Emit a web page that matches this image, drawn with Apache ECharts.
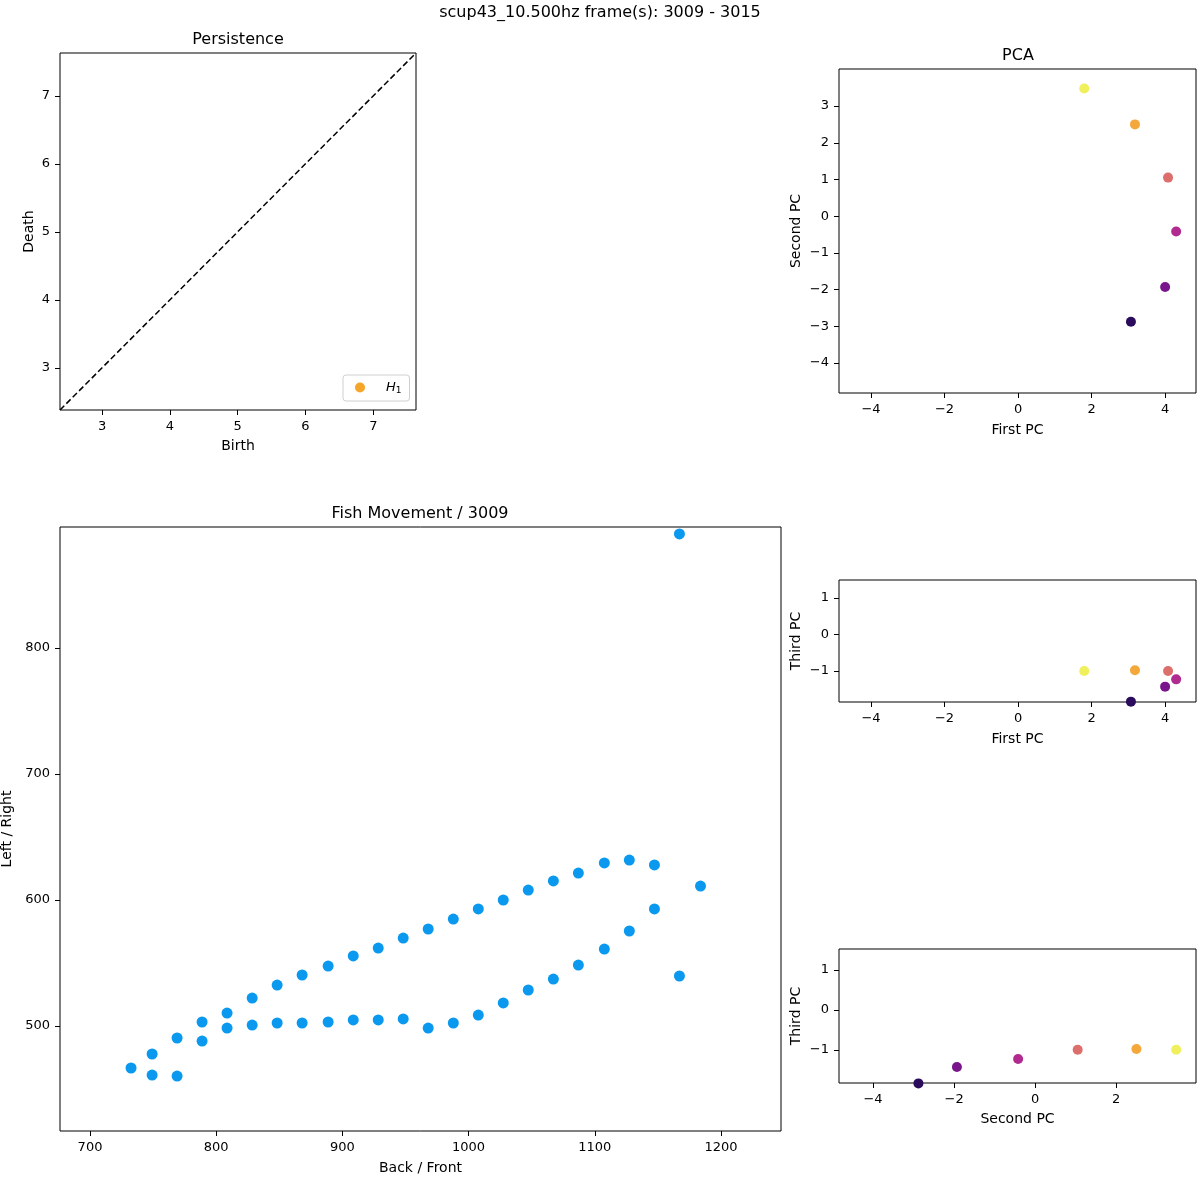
<!DOCTYPE html>
<html><head><meta charset="utf-8">
<script src="https://cdn.jsdelivr.net/npm/echarts@6/dist/echarts.min.js"></script>
<style>html,body{margin:0;padding:0;background:#fff}#c{width:1200px;height:1200px}</style>
</head><body><div id="c"></div>
<script>
// ---------- data ----------
const suptitle = 'scup43_10.500hz frame(s): 3009 - 3015';
const fishTitle = 'Fish Movement / 3009';

const fishX = [732.5, 749.2, 749.2, 769.0, 769.0, 788.8, 788.8, 808.6, 808.6, 828.5, 828.5,
  848.3, 848.3, 868.1, 868.1, 888.7, 888.7, 908.6, 908.6, 928.4, 928.4, 948.2, 948.2,
  968.0, 968.0, 987.9, 987.9, 1007.7, 1007.7, 1027.5, 1027.5, 1047.3, 1047.3, 1067.2, 1067.2,
  1087.0, 1087.0, 1107.6, 1107.6, 1127.4, 1127.4, 1147.3, 1147.3, 1167.1, 1167.1, 1183.8];
const fishY = [466.7, 477.8, 461.1, 490.5, 460.3, 503.2, 488.1, 510.3, 498.4, 522.2, 500.8,
  532.5, 502.4, 540.5, 502.4, 547.6, 503.2, 555.6, 504.8, 561.9, 504.8, 569.8, 505.6,
  577.0, 498.4, 584.9, 502.4, 592.9, 508.7, 600.0, 518.3, 607.9, 528.6, 615.1, 537.3,
  621.4, 548.4, 629.4, 561.1, 631.7, 575.4, 627.8, 592.9, 539.7, 890.5, 611.1];

const pc1 = [3.07, 4.00, 4.30, 4.08, 3.18, 1.80];
const pc2 = [-2.88, -1.93, -0.42, 1.05, 2.50, 3.48];
const pc3 = [-1.84, -1.43, -1.23, -1.00, -0.98, -1.00];
const pcColors = ['#2a0b5c', '#7a168c', '#b02a8f', '#dc6e6c', '#f4a73a', '#eff05c'];

const h1Birth = [];
const h1Death = [];
const persRange = [2.38, 7.63];

const persTicks = [3, 4, 5, 6, 7];
const pcaXTicks = [-4, -2, 0, 2, 4];
const pcaYTicks = [-4, -3, -2, -1, 0, 1, 2, 3];
const thirdTicks = [-1, 0, 1];
const pc2Ticks = [-4, -2, 0, 2];
const fishXTicks = [700, 800, 900, 1000, 1100, 1200];
const fishYTicks = [500, 600, 700, 800];

// ---------- chart ----------
const FONT = 'DejaVu Sans';
const fmt = v => String(v).replace('-', '\u2212');

function axis(kind, gi, min, max, ticks, name, gap) {
  return {
    type: 'value', gridIndex: gi, min, max,
    position: kind === 'y' ? 'left' : 'bottom',
    name, nameLocation: 'middle', nameGap: gap,
    nameRotate: kind === 'y' ? 90 : 0,
    nameTextStyle: { color: '#000', fontSize: 14, fontFamily: FONT },
    axisLine: { show: false, onZero: false },
    splitLine: { show: false },
    axisTick: { show: true, length: 5, inside: false, customValues: ticks, lineStyle: { color: '#000', width: 1 } },
    axisLabel: { show: true, customValues: ticks, formatter: fmt, color: '#000', fontSize: 13, fontFamily: FONT, margin: kind === 'y' ? 10 : 10 }
  };
}

const gridBase = { show: true, borderColor: '#000', borderWidth: 1, backgroundColor: 'transparent', containLabel: false, outerBoundsMode: 'none' };

const pcPts = (xs, ys) => xs.map((x, i) => ({ value: [x, ys[i]], itemStyle: { color: pcColors[i], opacity: 1 } }));

const option = {
  animation: false,
  backgroundColor: '#fff',
  textStyle: { fontFamily: FONT },
  grid: [
    Object.assign({ left: 60, top: 53, width: 356, height: 357 }, gridBase),
    Object.assign({ left: 839, top: 69, width: 357, height: 324 }, gridBase),
    Object.assign({ left: 839, top: 580, width: 357, height: 122 }, gridBase),
    Object.assign({ left: 839, top: 949, width: 357, height: 134 }, gridBase),
    Object.assign({ left: 60, top: 527, width: 721, height: 604 }, gridBase)
  ],
  xAxis: [
    axis('x', 0, persRange[0], persRange[1], persTicks, 'Birth', 29),
    axis('x', 1, -4.87, 4.84, pcaXTicks, 'First PC', 30),
    axis('x', 2, -4.87, 4.84, pcaXTicks, 'First PC', 30),
    axis('x', 3, -4.84, 3.97, pc2Ticks, 'Second PC', 29),
    axis('x', 4, 676.2, 1247.6, fishXTicks, 'Back / Front', 30)
  ],
  yAxis: [
    axis('y', 0, persRange[0], persRange[1], persTicks, 'Death', 24),
    axis('y', 1, -4.82, 4.01, pcaYTicks, 'Second PC', 36),
    axis('y', 2, -1.85, 1.49, thirdTicks, 'Third PC', 36),
    axis('y', 3, -1.83, 1.52, thirdTicks, 'Third PC', 36),
    axis('y', 4, 416.7, 896, fishYTicks, 'Left / Right', 44)
  ],
  legend: {
    left: 343, top: 375, orient: 'vertical',
    data: [{ name: 'H1', icon: 'circle' }],
    itemWidth: 10, itemHeight: 10, itemGap: 4,
    padding: [6, 8, 6, 12],
    borderColor: '#d0d0d0', borderWidth: 1, borderRadius: 3,
    backgroundColor: '#fff',
    formatter: () => '{i|H}{s|1}',
    textStyle: {
      rich: {
        i: { fontStyle: 'italic', fontSize: 13, fontFamily: FONT, color: '#000', padding: [0, 0, 0, 16] },
        s: { fontSize: 9, fontFamily: FONT, color: '#000', verticalAlign: 'bottom', padding: [6, 0, 0, 0] }
      }
    }
  },
  series: [
    {
      type: 'line', xAxisIndex: 0, yAxisIndex: 0, silent: true,
      data: [[persRange[0], persRange[0]], [persRange[1], persRange[1]]],
      showSymbol: false, symbol: 'none',
      lineStyle: { color: '#000', type: [6, 3], width: 1.5 }
    },
    {
      name: 'H1', type: 'scatter', xAxisIndex: 0, yAxisIndex: 0,
      data: h1Birth.map((b, i) => [b, h1Death[i]]),
      symbolSize: 10, itemStyle: { color: '#f5a52a', opacity: 1 }
    },
    { type: 'scatter', xAxisIndex: 1, yAxisIndex: 1, data: pcPts(pc1, pc2), symbolSize: 10, clip: false },
    { type: 'scatter', xAxisIndex: 2, yAxisIndex: 2, data: pcPts(pc1, pc3), symbolSize: 10, clip: false },
    { type: 'scatter', xAxisIndex: 3, yAxisIndex: 3, data: pcPts(pc2, pc3), symbolSize: 10, clip: false },
    {
      type: 'scatter', xAxisIndex: 4, yAxisIndex: 4,
      data: fishX.map((x, i) => [x, fishY[i]]),
      symbolSize: 11, itemStyle: { color: '#0a99ee', opacity: 1 }
    }
  ],
  graphic: [
    { type: 'text', style: { text: suptitle, x: 600, y: 13, textAlign: 'center', textVerticalAlign: 'middle', font: '16px "DejaVu Sans"', fill: '#000' } },
    { type: 'text', style: { text: 'Persistence', x: 238, y: 40, textAlign: 'center', textVerticalAlign: 'middle', font: '16px "DejaVu Sans"', fill: '#000' } },
    { type: 'text', style: { text: 'PCA', x: 1018, y: 56, textAlign: 'center', textVerticalAlign: 'middle', font: '16px "DejaVu Sans"', fill: '#000' } },
    { type: 'text', style: { text: fishTitle, x: 420, y: 514, textAlign: 'center', textVerticalAlign: 'middle', font: '16px "DejaVu Sans"', fill: '#000' } }
  ]
};

const chart = echarts.init(document.getElementById('c'), null, { renderer: 'canvas' });
chart.setOption(option);
</script>
</body></html>
